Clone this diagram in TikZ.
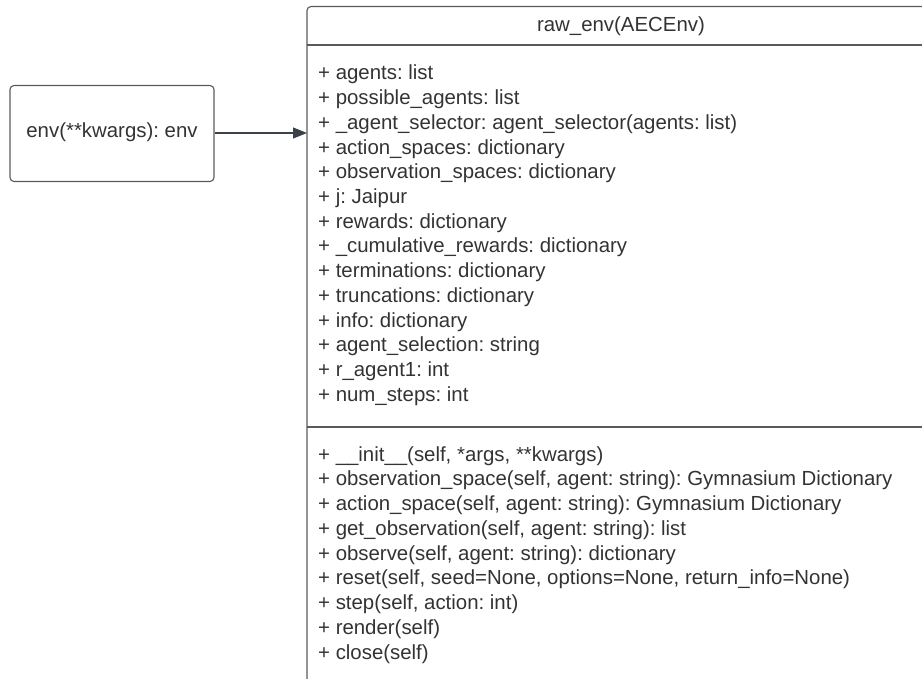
\documentclass[tikz,border=0pt]{standalone}
\usepackage{fontspec}
\setmainfont{Liberation Sans}
\frenchspacing
\usetikzlibrary{arrows.meta}
\definecolor{inkc}{HTML}{333333}
\definecolor{linec}{HTML}{5A5A5A}
\definecolor{arrowc}{HTML}{3A414A}
\begin{document}
\begin{tikzpicture}[x=1pt,y=-1pt,
  umltext/.style={font=\fontsize{20.4}{24.7}\selectfont, text=inkc, inner sep=0pt},
  member/.style={umltext, anchor=base west},
  boxline/.style={draw=linec, line width=1.1pt},
  conn/.style={draw=arrowc, line width=1.1pt, -{Triangle[length=14pt,width=11pt]}}]
  \useasboundingbox (0,0) rectangle (922,679);
  \begin{scope}
    \clip (0,0) rectangle (922,679);
    % class box (runs past the right and bottom edges)
    \draw[boxline, rounded corners=4pt] (307,720) -- (307,6.5) -- (940,6.5) -- (940,720);
    \draw[boxline] (307,45) -- (940,45);
    \draw[boxline] (307,427) -- (940,427);
  \end{scope}
  % function box
  \node[boxline, rounded corners=4pt, minimum width=204pt, minimum height=96pt, inner sep=0pt] (fn) at (112,133.5) {};
  \node[umltext, anchor=base] (fnlabel) at (112,138) {env(**kwargs): env};
  \coordinate (cls) at (307,133);
  \draw[conn] (fn.east |- cls) -- (cls);
  % class name
  \node[umltext, anchor=base] (title) at (621,32) {raw\_env(AECEnv)};
  % attributes
  \foreach \t [count=\i from 0] in {
    + agents: list,
    + possible\_agents: list,
    + \_agent\_selector: agent\_selector(agents: list),
    + action\_spaces: dictionary,
    + observation\_spaces: dictionary,
    + j: Jaipur,
    + rewards: dictionary,
    + \_cumulative\_rewards: dictionary,
    + terminations: dictionary,
    + truncations: dictionary,
    + info: dictionary,
    + agent\_selection: string,
    + r\_agent1: int,
    + num\_steps: int}
    \node[member] (attr\i) at (318,80+24.7*\i) {\t};
  % methods
  \foreach \t [count=\i from 0] in {
    {+ \_\_init\_\_(self, *args, **kwargs)},
    {+ observation\_space(self, agent: string): Gymnasium Dictionary},
    {+ action\_space(self, agent: string): Gymnasium Dictionary},
    {+ get\_observation(self, agent: string): list},
    {+ observe(self, agent: string): dictionary},
    {+ reset(self, seed=None, options=None, return\_info=None)},
    {+ step(self, action: int)},
    {+ render(self)},
    {+ close(self)}}
    \node[member] (meth\i) at (318,461+24.75*\i) {\t};
\end{tikzpicture}
\end{document}
